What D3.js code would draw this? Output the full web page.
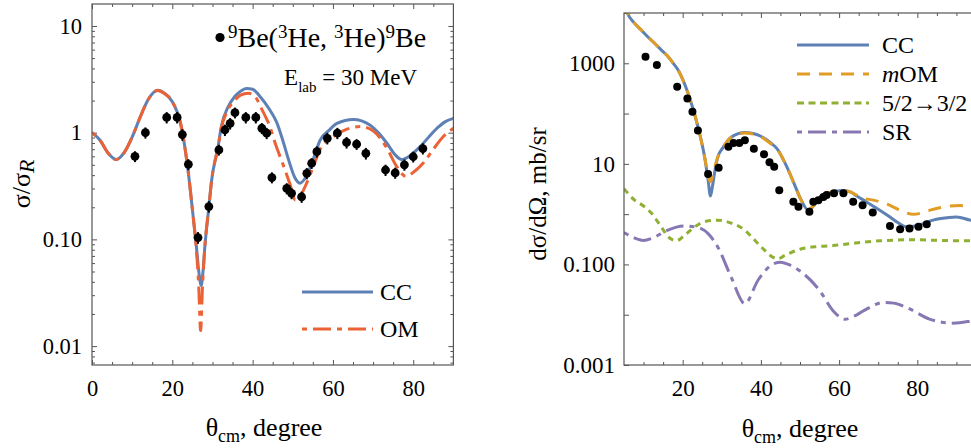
<!DOCTYPE html>
<html>
<head>
<meta charset="utf-8">
<script src="https://cdn.jsdelivr.net/npm/d3@7"></script>
<style>
  body { margin: 0; background: #fff; }
  svg { font-family: "Liberation Serif", "Times New Roman", serif; }
</style>
</head>
<body>
<svg id="chart" width="971" height="448"></svg>
<script>
// ---- left panel: sigma / sigma_R, 9Be(3He,3He)9Be at 30 MeV ----
// [theta, ratio]
const leftCC = [[0,1.0],[2,0.85],[4,0.645],[6,0.56],[8,0.65],[10,0.91],[12,1.4],[14,2.05],[16.4,2.5],[18,2.35],
  [20,1.95],[22,1.25],[23.9,0.45],[25.1,0.176],[26,0.085],[26.6,0.05],[27.2,0.037],[27.6,0.048],[28.1,0.085],
  [29.1,0.2],[29.8,0.36],[31.4,0.74],[32.2,1.14],[33.9,1.75],[35.5,2.17],[37,2.45],[38.5,2.6],[40,2.55],
  [42,2.15],[44.3,1.63],[46,1.25],[47.5,0.85],[49,0.55],[50.5,0.38],[51.8,0.336],[53.5,0.4],[55,0.55],
  [56.8,0.85],[59,1.05],[61,1.22],[65.1,1.33],[69.2,1.18],[71.5,0.98],[73.4,0.8],[75.5,0.62],[77.1,0.56],
  [79,0.6],[81.7,0.74],[85.9,1.1],[88,1.27],[90,1.36]];
const leftOM = [[0,1.0],[2,0.85],[4,0.645],[6,0.56],[8,0.65],[10,0.91],[12,1.4],[14,2.05],[16.4,2.48],[18,2.33],
  [20,1.95],[22,1.25],[23.9,0.45],[25.1,0.176],[26,0.08],[26.6,0.035],[27.05,0.014],[27.5,0.035],[28.1,0.085],
  [29.1,0.2],[29.8,0.36],[31.4,0.74],[32.2,1.1],[33.9,1.65],[35.5,2.0],[37,2.25],[38.9,2.34],[40.5,2.2],
  [42.5,1.6],[44.3,1.14],[45.6,0.8],[47.6,0.5],[49.3,0.33],[50.6,0.234],[52,0.26],[53.5,0.34],[55.1,0.48],
  [56.8,0.7],[60.1,0.92],[63.5,1.08],[67,1.14],[70,1.04],[73.4,0.72],[75.9,0.48],[78.2,0.39],[80.5,0.44],
  [82.5,0.52],[85,0.7],[87.5,0.92],[90,1.1]];
// [theta, ratio, error]
const leftExp = [[10.7,0.60,0.07],[13.3,1.0,0.12],[18.6,1.39,0.17],[21.2,1.39,0.17],[22.5,0.96,0.12],
  [24.0,0.505,0.06],[26.4,0.104,0.013],[29.1,0.203,0.025],[31.6,0.69,0.08],[33.1,1.06,0.13],[34.4,1.22,0.15],
  [35.6,1.54,0.18],[38.3,1.39,0.17],[40.8,1.39,0.17],[42.3,1.1,0.13],[43.5,0.99,0.12],[44.8,0.38,0.045],
  [48.5,0.30,0.036],[49.7,0.27,0.032],[52.2,0.25,0.03],[53.5,0.416,0.05],[54.7,0.517,0.06],[56.0,0.664,0.08],
  [58.6,0.886,0.11],[61.1,0.99,0.12],[63.4,0.81,0.1],[65.9,0.78,0.09],[68.2,0.64,0.08],[73.1,0.447,0.054],
  [75.5,0.42,0.05],[77.8,0.5,0.06],[80.0,0.595,0.07],[82.4,0.71,0.085]];
const leftXTicks = [0, 20, 40, 60, 80];
const leftXMinor = [5, 10, 15, 25, 30, 35, 45, 50, 55, 65, 70, 75, 85];
const leftYTicks = [0.01, 0.1, 1, 10];
const leftYLabels = ["0.01", "0.10", "1", "10"];

// ---- right panel: dsigma/dOmega ----
const rightCC = [[5,16000],[6,9500],[7.5,6500],[9.4,4600],[11,3400],[12.8,2500],[14.5,1850],[16.3,1350],[17.6,1000],
  [18.8,740],[21.4,250],[23.9,55],[25.6,13.8],[26.5,4.8],[27.1,2.3],[27.6,3.5],[28.2,7],[29,13.8],[30.3,21],
  [31.6,29.5],[34.2,40],[35.9,42],[38,40],[40.1,35],[42.3,27],[44.4,18.8],[46.4,9.5],[48.3,4.4],[50.3,1.9],
  [52.1,1.2],[53.6,1.5],[55.1,2.2],[57,2.6],[59,2.85],[61,2.95],[63,2.75],[64.5,2.3],[67,1.75],[70,1.25],
  [73,0.88],[75,0.68],[77.3,0.56],[79.5,0.58],[81.5,0.65],[84,0.76],[86,0.82],[90,0.88],[93.5,0.76],[95,0.72]];
const rightMOM = [[5,16000],[6,9500],[7.5,6500],[9.4,4600],[11,3400],[12.8,2500],[14.5,1850],[16.3,1350],[17.6,1000],
  [18.8,740],[21.4,250],[23.9,55],[25.6,14],[26.5,6],[27.1,4.4],[27.7,6],[28.2,8.5],[29,13.8],[30.3,21],
  [31.6,29.5],[34.2,39],[35.9,41],[38,39],[40.1,34],[42.3,26],[44.4,18.5],[46.4,9.5],[48.3,4.4],[50.3,1.9],
  [52.1,1.25],[53.6,1.5],[55.1,2.2],[57,2.6],[59,2.85],[61,2.95],[63,2.75],[64.5,2.4],[66,2.1],[68.8,1.9],
  [71,1.7],[73,1.5],[76.4,1.11],[79,0.99],[81,1.05],[83.3,1.2],[86,1.35],[88.4,1.45],[91,1.48],[93.5,1.45],[95,1.43]];
const rightTrans = [[5,3.2],[7.7,1.9],[10,1.45],[12,1.05],[14.5,0.56],[16.3,0.355],[18.4,0.295],[20.5,0.38],
  [23.1,0.56],[26,0.72],[29,0.76],[32,0.68],[35.9,0.48],[38.5,0.3],[41,0.19],[43,0.14],[44.4,0.13],[46,0.15],
  [50,0.2],[54,0.225],[57.7,0.234],[63,0.26],[70.5,0.295],[79,0.31],[86,0.3],[93.5,0.295],[95,0.295]];
const rightSR = [[5,0.43],[7.5,0.34],[9.9,0.30],[12.5,0.34],[15.9,0.47],[20.2,0.58],[23.1,0.56],[26.5,0.41],
  [29,0.22],[32.4,0.056],[35.9,0.0166],[39.3,0.049],[43.5,0.105],[45,0.11],[47,0.1],[50,0.074],[55.1,0.0297],
  [58.5,0.0119],[61.5,0.0081],[64,0.0095],[66.2,0.0119],[71.3,0.0175],[74,0.017],[77.3,0.0139],[83.3,0.0081],
  [89.2,0.0068],[93.7,0.0075],[95,0.0078]];
const rightExp = [[10.5,1350],[13.4,926],[18.6,343],[21.2,200],[22.5,109],[23.9,46],[26.5,6.3],[29.2,8.4],
  [31.7,22],[33,26],[34.5,26],[35.9,29.5],[38.2,20],[40.8,15.5],[42.2,10.8],[43.4,8.8],[44.7,3.0],[48.3,1.76],
  [49.6,1.4],[52.4,1.11],[53.4,1.76],[54.7,1.9],[56,2.2],[56.8,2.4],[58.7,2.6],[61.1,2.6],[63.6,1.76],[66,1.5],
  [68.6,1.08],[73,0.58],[75.6,0.5],[78,0.52],[80.3,0.56],[82.4,0.63]];
const rightXTicks = [20, 40, 60, 80];
const rightXMinor = [10, 15, 25, 30, 35, 45, 50, 55, 65, 70, 75, 85, 90];
const rightYTicks = [0.001, 0.01, 0.1, 1, 10, 100, 1000, 10000];
const rightYLabels = {"0.001": "0.001", "0.1": "0.100", "10": "10", "1000": "1000"};

const blue = "#5E81B5", orange = "#E19C24", green = "#8FB032", red = "#EB6235", purple = "#8778B3";
const frameColor = "#555";

const svg = d3.select("#chart");

function makeAxis(g, axisFn, scale, values, size, transform, fmt, pad, fs) {
  const ax = g.append("g")
    .attr("transform", transform)
    .call(axisFn(scale).tickValues(values).tickSize(-size).tickPadding(pad || 0).tickFormat(fmt || (() => "")));
  ax.select(".domain").remove();
  ax.attr("font-family", null).attr("font-size", fs || 22.5);
  ax.selectAll(".tick line").attr("stroke", frameColor).attr("stroke-width", 1);
  ax.selectAll(".tick text").attr("fill", "#000");
  return ax;
}

function panel(id, xDomain, xRange, yDomain, yRange) {
  const x = d3.scaleLinear().domain(xDomain).range(xRange);
  const y = d3.scaleLog().domain(yDomain).range(yRange);
  const g = svg.append("g").attr("class", id);
  svg.append("clipPath").attr("id", id + "-clip").append("rect")
    .attr("x", xRange[0]).attr("y", yRange[1])
    .attr("width", xRange[1] - xRange[0]).attr("height", yRange[0] - yRange[1]);
  return { x, y, g, clip: "url(#" + id + "-clip)" };
}

function drawLine(p, data, color, dash) {
  const line = d3.line().x(d => p.x(d[0])).y(d => p.y(d[1])).curve(d3.curveMonotoneX);
  p.g.append("path")
    .datum(data)
    .attr("clip-path", p.clip)
    .attr("fill", "none")
    .attr("stroke", color)
    .attr("stroke-width", 3)
    .attr("stroke-dasharray", dash || null)
    .attr("d", line);
}

function drawFrame(p) {
  const [x0, x1] = p.x.range(), [y0, y1] = p.y.range();
  p.g.append("rect")
    .attr("x", x0).attr("y", y1).attr("width", x1 - x0).attr("height", y0 - y1)
    .attr("fill", "none").attr("stroke", frameColor).attr("stroke-width", 1.2);
}

// ================= LEFT PANEL =================
const L = panel("left", [0, 90], [92, 453.4], [0.00665, 16.07], [365, 4]);
const lx0 = 92, lx1 = 453.4, ly0 = 365, ly1 = 4;

let lyMinor = [];
[0.001, 0.01, 0.1, 1, 10].forEach(dec => {
  for (let k = 2; k <= 9; k++) {
    const v = dec * k;
    if (v > 0.00665 && v < 16.07) lyMinor.push(v);
  }
});

makeAxis(L.g, d3.axisBottom, L.x, leftXTicks, 5, `translate(0,${ly0})`, d => d, 15);
makeAxis(L.g, d3.axisBottom, L.x, leftXMinor, 3, `translate(0,${ly0})`);
makeAxis(L.g, d3.axisTop, L.x, leftXTicks, 5, `translate(0,${ly1})`);
makeAxis(L.g, d3.axisTop, L.x, leftXMinor, 3, `translate(0,${ly1})`);
makeAxis(L.g, d3.axisLeft, L.y, leftYTicks, 5, `translate(${lx0},0)`, (d, i) => leftYLabels[i], 10);
makeAxis(L.g, d3.axisLeft, L.y, lyMinor, 3, `translate(${lx0},0)`);
makeAxis(L.g, d3.axisRight, L.y, leftYTicks, 5, `translate(${lx1},0)`);
makeAxis(L.g, d3.axisRight, L.y, lyMinor, 3, `translate(${lx1},0)`);

drawLine(L, leftCC, blue);
drawLine(L, leftOM, red, "5,6,18,6");

// experimental points with error bars
L.g.selectAll(".err")
  .data(leftExp)
  .enter()
  .append("line")
  .attr("x1", d => L.x(d[0])).attr("x2", d => L.x(d[0]))
  .attr("y1", d => L.y(d[1] - d[2])).attr("y2", d => L.y(d[1] + d[2]))
  .attr("stroke", "#000").attr("stroke-width", 2);
L.g.selectAll(".pt")
  .data(leftExp)
  .enter()
  .append("circle")
  .attr("cx", d => L.x(d[0]))
  .attr("cy", d => L.y(d[1]))
  .attr("r", 4.4)
  .attr("fill", "#000");

drawFrame(L);

// reaction label
L.g.append("circle").attr("cx", 220).attr("cy", 37.5).attr("r", 4.6).attr("fill", "#000");
const reac = L.g.append("text").attr("x", 228).attr("y", 47).attr("font-size", 28);
reac.append("tspan").attr("font-size", 19).attr("dy", -9).text("9");
reac.append("tspan").attr("dy", 9).text("Be(");
reac.append("tspan").attr("font-size", 19).attr("dy", -9).text("3");
reac.append("tspan").attr("dy", 9).text("He, ");
reac.append("tspan").attr("font-size", 19).attr("dy", -9).text("3");
reac.append("tspan").attr("dy", 9).text("He)");
reac.append("tspan").attr("font-size", 19).attr("dy", -9).text("9");
reac.append("tspan").attr("dy", 9).text("Be");

const elab = L.g.append("text").attr("x", 417).attr("y", 85).attr("font-size", 23).attr("text-anchor", "end");
elab.append("tspan").text("E");
elab.append("tspan").attr("font-size", 15).attr("dy", 7).text("lab");
elab.append("tspan").attr("dy", -7).text(" = 30 MeV");

// legend
const leftLegend = [["CC", blue, null, 292], ["OM", red, "5,6,18,6", 329]];
leftLegend.forEach(([name, color, dash, ly]) => {
  L.g.append("line").attr("x1", 302).attr("x2", 373).attr("y1", ly).attr("y2", ly)
    .attr("stroke", color).attr("stroke-width", 3).attr("stroke-dasharray", dash);
  L.g.append("text").attr("x", 380).attr("y", ly + 8).attr("font-size", 24).text(name);
});

// axis titles
const lxt = L.g.append("text").attr("x", 264).attr("y", 436).attr("font-size", 26).attr("text-anchor", "middle");
lxt.append("tspan").text("θ");
lxt.append("tspan").attr("font-size", 18).attr("dy", 6).text("cm");
lxt.append("tspan").attr("dy", -6).text(", degree");

const lyt = L.g.append("text").attr("transform", "translate(30,184) rotate(-90)")
  .attr("font-size", 26).attr("text-anchor", "middle");
lyt.append("tspan").text("σ/σ");
lyt.append("tspan").attr("font-style", "italic").attr("font-size", 22).attr("dy", 4).text("R");

// ================= RIGHT PANEL =================
const R = panel("right", [5, 95], [624, 976], [0.001, 10000], [365, 13]);
const rx0 = 624, rx1 = 976, ry0 = 365, ry1 = 13;

makeAxis(R.g, d3.axisBottom, R.x, rightXTicks, 5, `translate(0,${ry0})`, d => d, 15, 23);
makeAxis(R.g, d3.axisBottom, R.x, rightXMinor, 3, `translate(0,${ry0})`);
makeAxis(R.g, d3.axisTop, R.x, rightXTicks, 5, `translate(0,${ry1})`);
makeAxis(R.g, d3.axisTop, R.x, rightXMinor, 3, `translate(0,${ry1})`);
makeAxis(R.g, d3.axisLeft, R.y, rightYTicks, 5, `translate(${rx0},0)`, d => rightYLabels[String(d)] || "", 9, 23);
makeAxis(R.g, d3.axisRight, R.y, rightYTicks, 5, `translate(${rx1},0)`);

drawLine(R, rightSR, purple, "5,6,18,6");
drawLine(R, rightTrans, green, "6,5");
drawLine(R, rightCC, blue);
drawLine(R, rightMOM, orange, "13,9");

R.g.selectAll(".pt")
  .data(rightExp)
  .enter()
  .append("circle")
  .attr("cx", d => R.x(d[0]))
  .attr("cy", d => R.y(d[1]))
  .attr("r", 4)
  .attr("fill", "#000");

drawFrame(R);

const rightLegend = [["CC", blue, null, 45], ["mOM", orange, "13,9", 74], ["5/2→3/2", green, "7,4.5", 103], ["SR", purple, "5,6,18,6", 132]];
rightLegend.forEach(([name, color, dash, ly]) => {
  R.g.append("line").attr("x1", 797).attr("x2", 869).attr("y1", ly).attr("y2", ly)
    .attr("stroke", color).attr("stroke-width", 3).attr("stroke-dasharray", dash);
  const t = R.g.append("text").attr("x", 882).attr("y", ly + 8).attr("font-size", 24);
  if (name === "mOM") {
    t.append("tspan").attr("font-style", "italic").text("m");
    t.append("tspan").text("OM");
  } else {
    t.text(name);
  }
});

const rxt = R.g.append("text").attr("x", 800).attr("y", 437).attr("font-size", 26).attr("text-anchor", "middle");
rxt.append("tspan").text("θ");
rxt.append("tspan").attr("font-size", 18).attr("dy", 6).text("cm");
rxt.append("tspan").attr("dy", -6).text(", degree");

R.g.append("text").attr("transform", "translate(546,194) rotate(-90)")
  .attr("font-size", 25).attr("text-anchor", "middle")
  .text("dσ/dΩ, mb/sr");
</script>
</body>
</html>
